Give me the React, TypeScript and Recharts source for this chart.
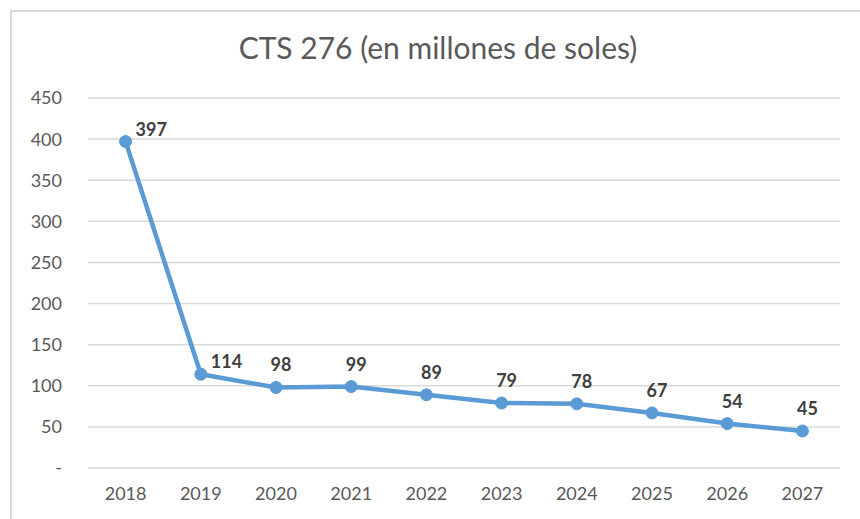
import { LineChart, Line, XAxis, YAxis, CartesianGrid, LabelList } from "recharts";

const years = ["2018", "2019", "2020", "2021", "2022", "2023", "2024", "2025", "2026", "2027"];
const ctsValues = [397, 114, 98, 99, 89, 79, 78, 67, 54, 45];
const yTicks = [0, 50, 100, 150, 200, 250, 300, 350, 400, 450];

const data = years.map((year, i) => ({ year, value: ctsValues[i] }));

const FONT = "Lato, 'Open Sans', sans-serif";

// Excel-style data label: first two points sit to the right, the rest above
const PointLabel = (props: any) => {
    const { x, y, value, index } = props;
    if (index < 2) {
        return (
            <text x={x + 10} y={y - 6} fontFamily={FONT} fontSize={18} fontWeight={700} fill="#404040" textAnchor="start">
                {value}
            </text>
        );
    }
    return (
        <text x={x + 5} y={y - 16} fontFamily={FONT} fontSize={18} fontWeight={700} fill="#404040" textAnchor="middle">
            {value}
        </text>
    );
};

export default function App() {
    return (
        <div style={{ position: "absolute", left: 0, top: 0, width: 860, height: 519, background: "#fff", overflow: "hidden" }}>
            <div
                style={{
                    position: "absolute",
                    left: 10,
                    top: 10,
                    width: 900,
                    height: 600,
                    border: "2px solid #d9d9d9",
                    boxSizing: "border-box",
                }}
            />
            <div
                style={{
                    position: "absolute",
                    left: 0,
                    top: 29,
                    width: 876,
                    textAlign: "center",
                    fontFamily: FONT,
                    fontSize: 30,
                    color: "#595959",
                }}
            >
                CTS 276 (en millones de soles)
            </div>
            <div style={{ position: "absolute", left: 0, top: 0 }}>
                <LineChart width={860} height={519} data={data} margin={{ top: 98, right: 20, left: 8, bottom: 0 }}>
                    <CartesianGrid vertical={false} stroke="#d9d9d9" strokeWidth={1.5} />
                    <XAxis
                        dataKey="year"
                        height={51}
                        padding={{ left: 37.6, right: 37.6 }}
                        axisLine={false}
                        tickLine={false}
                        tickSize={0}
                        tickMargin={19}
                        tick={{ fontFamily: FONT, fontSize: 18, fill: "#595959" }}
                    />
                    <YAxis
                        width={80}
                        domain={[0, 450]}
                        ticks={yTicks}
                        axisLine={false}
                        tickLine={false}
                        tickSize={0}
                        tickMargin={26}
                        tickFormatter={(v) => (v === 0 ? "-" : String(v))}
                        tick={{ fontFamily: FONT, fontSize: 18, fill: "#595959" }}
                    />
                    <Line
                        type="linear"
                        dataKey="value"
                        stroke="#5b9bd5"
                        strokeWidth={4.5}
                        dot={{ r: 6, fill: "#5b9bd5", stroke: "#5b9bd5", strokeWidth: 1 }}
                        isAnimationActive={false}
                    >
                        <LabelList dataKey="value" content={PointLabel} />
                    </Line>
                </LineChart>
            </div>
        </div>
    );
}
